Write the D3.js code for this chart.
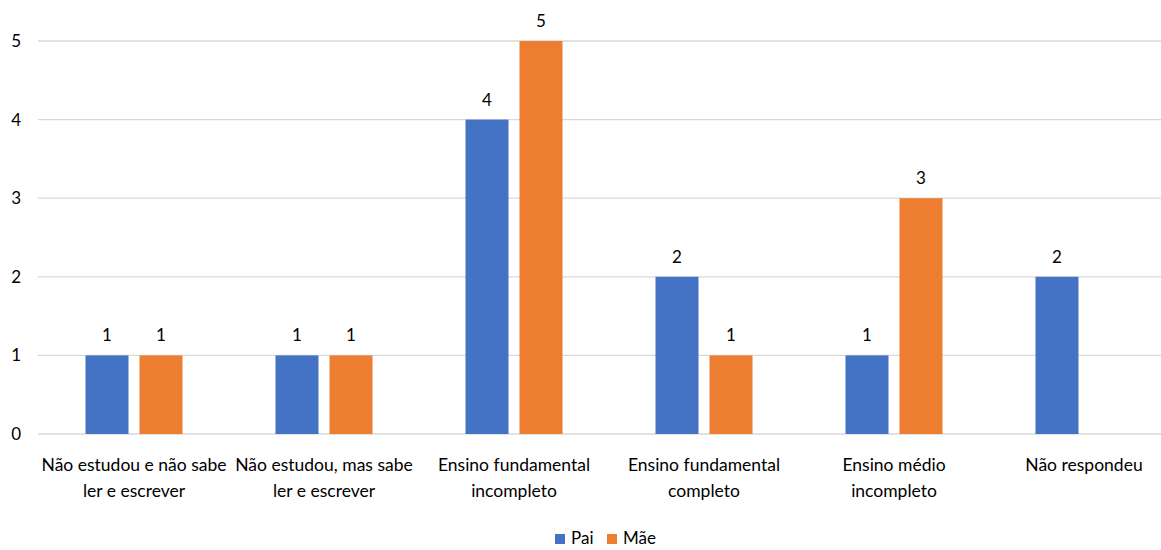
<!DOCTYPE html>
<html>
<head>
<meta charset="utf-8">
<script src="https://cdn.jsdelivr.net/npm/d3@7"></script>
<style>
  body { margin: 0; background: #fff; }
  svg { display: block; font-family: Lato, "Open Sans", sans-serif; }
</style>
</head>
<body>
<svg id="chart" width="1161" height="550"></svg>
<script>
// category labels, line breaks as Excel wrapped them
const categories = [
  'Não estudou e não sabe\nler e escrever',
  'Não estudou, mas sabe\nler e escrever',
  'Ensino fundamental\nincompleto',
  'Ensino fundamental\ncompleto',
  'Ensino médio\nincompleto',
  'Não respondeu'
];
const seriesNames = ['Pai', 'Mãe'];
const paiValues   = [1, 1, 4, 2, 1, 2];
const maeValues   = [1, 1, 5, 1, 3, null];
const yTicks      = [0, 1, 2, 3, 4, 5];
const colors      = {'Pai': '#4472C4', 'Mãe': '#ED7D31'};

const svg = d3.select('svg#chart');

const x0 = d3.scaleBand().domain(categories).range([39, 1179]);
const x1 = d3.scaleBand().domain(seriesNames)
  .range([46.5, x0.bandwidth() - 46.5])
  .paddingInner(0.204);
const y  = d3.scaleLinear().domain([0, 5]).range([434, 41]);

// gridlines
svg.append('g').classed('grid', true)
  .selectAll('line')
  .data(yTicks)
  .join('line')
  .attr('x1', 38)
  .attr('x2', 1179)
  .attr('y1', d => y(d))
  .attr('y2', d => y(d))
  .attr('stroke', '#D9D9D9')
  .attr('stroke-width', 1.3);

// y axis labels
const yAxis = d3.axisLeft(y).tickValues(yTicks).tickFormat(d3.format('d')).tickSize(0).tickPadding(0);
svg.append('g')
  .attr('transform', 'translate(21,0)')
  .call(yAxis)
  .call(g => g.select('.domain').remove())
  .call(g => g.selectAll('text')
    .attr('font-size', 17)
    .attr('font-family', 'Lato, sans-serif')
    .attr('fill', '#000'));

const rows = categories.map((c, i) => ({
  category: c,
  values: [
    {series: 'Pai', value: paiValues[i]},
    {series: 'Mãe', value: maeValues[i]}
  ].filter(v => v.value != null)
}));

const groups = svg.append('g').classed('bars', true)
  .selectAll('g')
  .data(rows)
  .join('g')
  .attr('transform', d => `translate(${x0(d.category)},0)`);

groups.selectAll('rect')
  .data(d => d.values)
  .join('rect')
  .attr('x', d => x1(d.series))
  .attr('width', x1.bandwidth())
  .attr('y', d => y(d.value))
  .attr('height', d => y(0) - y(d.value))
  .attr('fill', d => colors[d.series]);

groups.selectAll('text')
  .data(d => d.values)
  .join('text')
  .attr('x', d => x1(d.series) + x1.bandwidth() / 2)
  .attr('y', d => y(d.value) - 14)
  .attr('text-anchor', 'middle')
  .attr('font-size', 17)
  .attr('fill', '#000')
  .text(d => d.value);

// x axis labels
svg.append('g').classed('xlabels', true)
  .selectAll('text')
  .data(categories)
  .join('text')
  .attr('text-anchor', 'middle')
  .attr('font-size', 17.5)
  .attr('fill', '#000')
  .each(function (d) {
    const t  = d3.select(this);
    const cx = x0(d) + x0.bandwidth() / 2;
    d.split('\n').forEach((line, i) => {
      t.append('tspan')
        .attr('x', cx)
        .attr('y', 471 + i * 26)
        .text(line);
    });
  });

// legend
const legend = svg.append('g').classed('legend', true)
  .attr('transform', 'translate(555,534)');
const legendX = d3.scaleOrdinal().domain(seriesNames).range([0, 52]);
const items = legend.selectAll('g')
  .data(seriesNames)
  .join('g')
  .attr('transform', d => `translate(${legendX(d)},0)`);
items.append('rect')
  .attr('width', 10)
  .attr('height', 10)
  .attr('fill', d => colors[d]);
items.append('text')
  .attr('x', 16)
  .attr('y', 10)
  .attr('font-size', 17)
  .attr('fill', '#000')
  .text(d => d);
</script>
</body>
</html>
